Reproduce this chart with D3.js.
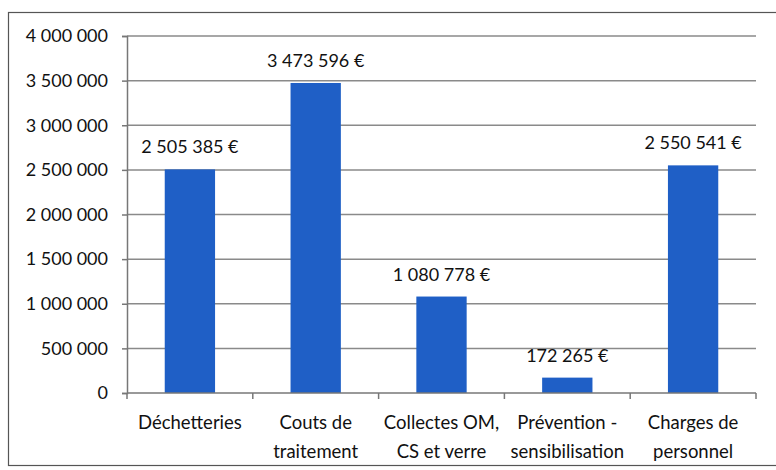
<!DOCTYPE html>
<html>
<head>
<meta charset="utf-8">
<script src="https://cdn.jsdelivr.net/npm/d3@7"></script>
<style>
  body { margin: 0; background: #fff; }
  text { font-family: Lato, sans-serif; fill: #111; }
</style>
</head>
<body>
<div id="chart"></div>
<script>
var categories = [["Déchetteries"], ["Couts de", "traitement"], ["Collectes OM,", "CS et verre"], ["Prévention -", "sensibilisation"], ["Charges de", "personnel"]];
var values = [2505385, 3473596, 1080778, 172265, 2550541];
var yTicks = [0, 500000, 1000000, 1500000, 2000000, 2500000, 3000000, 3500000, 4000000];

var W = 776, H = 470;
var margin = {top: 36, right: 20, bottom: 77, left: 127},
    width = 756 - margin.left,
    height = 393 - margin.top;

var fmt = function(v) { return d3.format(",")(v).replace(/,/g, " "); };

var svg = d3.select("#chart").append("svg")
    .attr("width", W).attr("height", H);

svg.append("rect")
    .attr("x", 8.5).attr("y", 12.5)
    .attr("width", 780).attr("height", 453)
    .attr("fill", "#fff").attr("stroke", "#555").attr("stroke-width", 1.2);

var g = svg.append("g")
    .attr("transform", "translate(" + margin.left + "," + margin.top + ")");

var x = d3.scaleBand()
    .domain(d3.range(values.length))
    .range([0, width])
    .paddingInner(0.6)
    .paddingOuter(0.3);

var y = d3.scaleLinear()
    .domain([0, 4000000])
    .range([height, 0]);

// gridlines
g.selectAll(".grid")
  .data(yTicks.slice(1))
  .enter().append("line")
    .attr("x1", 0).attr("x2", width)
    .attr("y1", function(d) { return y(d); })
    .attr("y2", function(d) { return y(d); })
    .attr("stroke", "#8a8a8a").attr("stroke-width", 1.5);

// y axis
var yAxis = g.append("g")
    .call(d3.axisLeft(y).tickValues(yTicks).tickSize(5).tickPadding(14).tickFormat(fmt));
yAxis.selectAll("line, path").attr("stroke", "#777").attr("stroke-width", 1.5);
yAxis.selectAll("text").style("font-size", "18px").style("font-family", "Lato, sans-serif").attr("fill", "#111");

// bars
g.selectAll(".bar")
  .data(values)
  .enter().append("rect")
    .attr("x", function(d, i) { return x(i); })
    .attr("y", function(d) { return y(d); })
    .attr("width", x.bandwidth())
    .attr("height", function(d) { return height - y(d); })
    .attr("fill", "#1f5fc6");

// value labels
g.selectAll(".val")
  .data(values)
  .enter().append("text")
    .attr("x", function(d, i) { return x(i) + x.bandwidth() / 2; })
    .attr("y", function(d) { return y(d) - 16; })
    .attr("text-anchor", "middle")
    .style("font-size", "18px")
    .text(function(d) { return fmt(d) + " €"; });

// x axis
var step = x.step();
var xAxis = g.append("g").attr("transform", "translate(0," + height + ")");
xAxis.append("line")
    .attr("x1", 0).attr("x2", width)
    .attr("stroke", "#777").attr("stroke-width", 1.5);
xAxis.selectAll(".tick")
  .data(d3.range(values.length + 1))
  .enter().append("line")
    .attr("x1", function(i) { return i === 0 ? 0 : x(i - 1) + x.bandwidth() + x.paddingInner() * step / 2; })
    .attr("x2", function(i) { return i === 0 ? 0 : x(i - 1) + x.bandwidth() + x.paddingInner() * step / 2; })
    .attr("y1", 0).attr("y2", 6)
    .attr("stroke", "#777").attr("stroke-width", 1.5);

xAxis.selectAll(".lbl")
  .data(categories)
  .enter().append("text")
    .attr("text-anchor", "middle")
    .attr("transform", function(d, i) { return "translate(" + (x(i) + x.bandwidth() / 2) + ",36)"; })
    .style("font-size", "18.5px")
    .selectAll("tspan")
    .data(function(d) { return d; })
    .enter().append("tspan")
      .attr("x", 0)
      .attr("dy", function(d, j) { return j === 0 ? 0 : 29; })
      .text(function(d) { return d; });
</script>
</body>
</html>
